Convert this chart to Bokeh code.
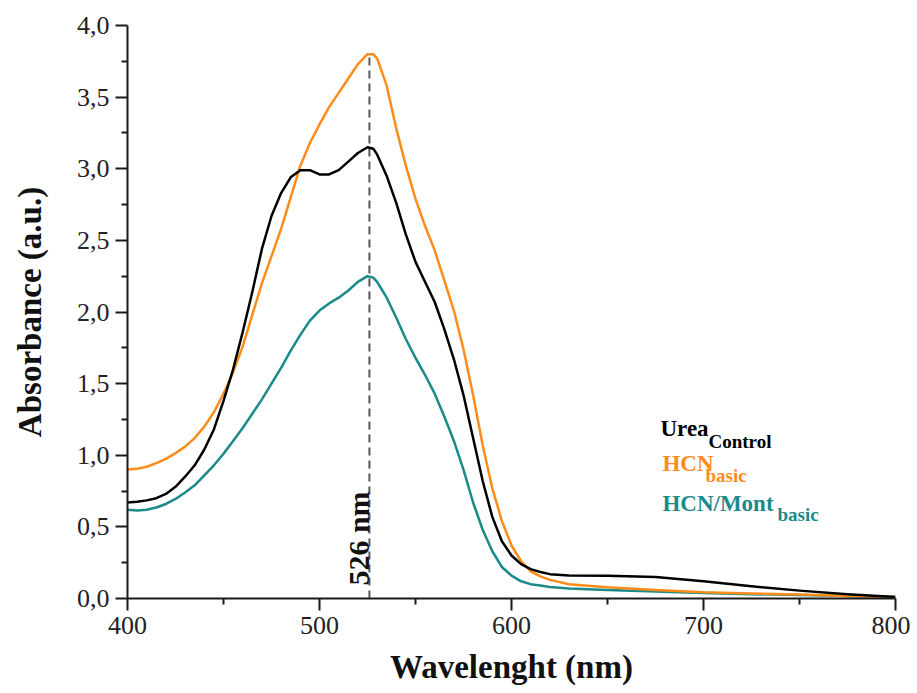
import numpy as np
from bokeh.plotting import figure
from bokeh.models import Range1d, FixedTicker, Label
from bokeh.embed import file_html
from bokeh.resources import INLINE

# ---- data ----
wavelength = [400, 405, 410, 415, 420, 425, 430, 435, 440, 445,
              450, 455, 460, 465, 470, 475, 480, 485, 490, 495,
              500, 505, 510, 515, 520, 525, 528, 530, 535, 540,
              545, 550, 555, 560, 565, 570, 575, 580, 585, 590,
              595, 600, 605, 610, 615, 620, 630, 650, 675, 700,
              725, 750, 775, 800]

urea_control = [0.67, 0.675, 0.685, 0.70, 0.73, 0.78, 0.85, 0.93, 1.04, 1.18,
                1.38, 1.60, 1.86, 2.14, 2.44, 2.67, 2.83, 2.94, 2.99, 2.99,
                2.96, 2.96, 2.99, 3.05, 3.11, 3.15, 3.14, 3.10, 2.95, 2.76,
                2.54, 2.35, 2.21, 2.07, 1.88, 1.67, 1.42, 1.12, 0.82, 0.57,
                0.40, 0.30, 0.24, 0.205, 0.185, 0.17, 0.16, 0.158, 0.15, 0.12,
                0.085, 0.055, 0.03, 0.01]

hcn_basic = [0.90, 0.905, 0.92, 0.945, 0.975, 1.015, 1.06, 1.12, 1.20, 1.30,
             1.43, 1.58, 1.76, 1.98, 2.20, 2.39, 2.58, 2.80, 3.02, 3.18,
             3.31, 3.43, 3.53, 3.63, 3.73, 3.80, 3.80, 3.77, 3.58, 3.28,
             3.02, 2.79, 2.60, 2.43, 2.22, 2.01, 1.74, 1.42, 1.07, 0.77,
             0.54, 0.37, 0.26, 0.19, 0.155, 0.13, 0.10, 0.078, 0.06, 0.043,
             0.035, 0.028, 0.018, 0.01]

hcn_mont_basic = [0.62, 0.615, 0.62, 0.635, 0.66, 0.695, 0.74, 0.79, 0.86, 0.93,
                  1.01, 1.10, 1.19, 1.29, 1.39, 1.50, 1.61, 1.73, 1.84, 1.94,
                  2.01, 2.06, 2.10, 2.15, 2.21, 2.25, 2.24, 2.21, 2.10, 1.96,
                  1.81, 1.68, 1.56, 1.43, 1.27, 1.10, 0.90, 0.67, 0.48, 0.33,
                  0.22, 0.16, 0.12, 0.10, 0.09, 0.08, 0.07, 0.06, 0.048, 0.038,
                  0.03, 0.025, 0.018, 0.01]

peak_wavelength = 526
peak_absorbance = 3.81
peak_label = "526 nm"

x_ticks = [400, 500, 600, 700, 800]
x_minor = [450, 550, 650, 750]
y_ticks = [0.0, 0.5, 1.0, 1.5, 2.0, 2.5, 3.0, 3.5, 4.0]
y_tick_labels = ["0,0", "0,5", "1,0", "1,5", "2,0", "2,5", "3,0", "3,5", "4,0"]
y_minor = [0.25, 0.75, 1.25, 1.75, 2.25, 2.75, 3.25, 3.75]

x_label = "Wavelenght (nm)"
y_label = "Absorbance (a.u.)"

ORANGE = "#FF8C1A"
TEAL = "#1A8A8A"
BLACK = "#000000"
FONT = "Liberation Serif"

p = figure(width=910, height=690,
           x_range=Range1d(400, 800), y_range=Range1d(0, 4),
           output_backend="svg", toolbar_location=None,
           min_border_left=127, min_border_right=15,
           min_border_top=25, min_border_bottom=92)
p.outline_line_color = None
p.xgrid.visible = False
p.ygrid.visible = False
p.background_fill_color = "white"
p.border_fill_color = "white"

for ax in (p.xaxis[0], p.yaxis[0]):
    ax.axis_line_width = 2
    ax.axis_line_color = "#1a1a1a"
    ax.major_tick_line_width = 2
    ax.minor_tick_line_width = 2
    ax.major_tick_line_color = "#1a1a1a"
    ax.minor_tick_line_color = "#1a1a1a"
    ax.major_tick_in = 0
    ax.major_tick_out = 12
    ax.minor_tick_in = 0
    ax.minor_tick_out = 6
    ax.major_label_text_font = FONT
    ax.major_label_text_font_size = "26px"
    ax.major_label_text_color = "#222222"
    ax.axis_label_text_font = FONT
    ax.axis_label_text_font_size = "33px"
    ax.axis_label_text_font_style = "bold"
    ax.axis_label_text_color = "#111111"

p.xaxis[0].ticker = FixedTicker(ticks=x_ticks, minor_ticks=x_minor)
p.yaxis[0].ticker = FixedTicker(ticks=y_ticks, minor_ticks=y_minor)
p.yaxis[0].major_label_overrides = {t: l for t, l in zip(y_ticks, y_tick_labels)}
p.xaxis[0].axis_label = x_label
p.yaxis[0].axis_label = y_label
p.xaxis[0].major_label_standoff = 6
p.yaxis[0].major_label_standoff = 6
p.xaxis[0].axis_label_standoff = 12
p.yaxis[0].axis_label_standoff = 26

# dashed peak marker
p.segment(x0=[peak_wavelength], y0=[0], x1=[peak_wavelength], y1=[peak_absorbance],
          line_color="#555555", line_width=2, line_dash="8 5")

# spectra
p.line(wavelength, hcn_mont_basic, line_color=TEAL, line_width=2.5, line_join="round")
p.line(wavelength, hcn_basic, line_color=ORANGE, line_width=2.5, line_join="round")
p.line(wavelength, urea_control, line_color=BLACK, line_width=2.5, line_join="round")

# peak label (rotated)
p.add_layout(Label(x=520.3, y=0.09, text=peak_label, angle=np.pi / 2,
                   text_font=FONT, text_font_size="30px", text_font_style="bold",
                   text_color="#111111", text_align="left", text_baseline="alphabetic"))

# legend-like labels with subscripts
legend_items = [
    ("Urea", "Control", BLACK, (677.6, 1.187), (702.6, 1.096)),
    ("HCN", "basic", ORANGE, (678.6, 0.942), (701.0, 0.859)),
    ("HCN/Mont", "basic", TEAL, (678.6, 0.663), (738.5, 0.586)),
]
for main, sub, col, (mx, my), (sx, sy) in legend_items:
    p.add_layout(Label(x=mx, y=my, text=main, text_font=FONT, text_font_size="23px",
                       text_font_style="bold", text_color=col,
                       text_align="left", text_baseline="alphabetic"))
    p.add_layout(Label(x=sx, y=sy, text=sub, text_font=FONT, text_font_size="19px",
                       text_font_style="bold", text_color=col,
                       text_align="left", text_baseline="alphabetic"))

open("out.html", "w").write(file_html(p, INLINE))
